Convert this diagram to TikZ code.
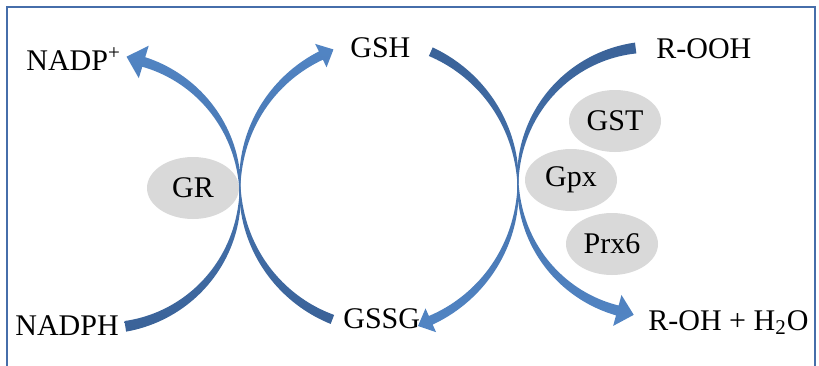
\documentclass[tikz,border=0pt]{standalone}
\usepackage{fontspec}
\setmainfont{Liberation Serif}
\usepackage{xcolor}
\usepackage{tikz}
\usetikzlibrary{shapes.geometric, positioning}
\definecolor{framecol}{RGB}{70,110,170}
\definecolor{arcdark}{RGB}{58,98,152}
\definecolor{arclight}{RGB}{82,133,196}

\begin{document}
\begin{tikzpicture}[x=0.5pt, y=-0.5pt,
  chem/.style={inner sep=0, anchor=base west, font=\fontsize{15}{18}\selectfont},
  enzyme/.style={ellipse, fill=gray!30, minimum width=46pt, minimum height=31pt,
    inner sep=0, font=\fontsize{15}{18}\selectfont}]
  \useasboundingbox (0,0) rectangle (819,365);
  \clip (0,0) rectangle (819,365);
  % frame
  \draw[framecol, line width=1pt] (7,7) rectangle (815,380);

  % enzymes
  \node[enzyme] (gr)  at (193,188) {GR};
  \node[enzyme] (gst) at (615,121) {GST};
  \node[enzyme] (gpx) at (571,180) {Gpx};
  \node[enzyme] (prx) at (612,244) {Prx6};

  % tapered arcs: centre, radius, tail / pinch / head angle, sense, head size
  \foreach \cx/\cy/\rad/\aT/\aM/\aH/\sg/\hw/\hl/\ctop/\cbot in {
      104/192/136/81/0/-73/-1/17/18/arclight/arcdark,
      384/185/144/111/180/244/1/13/14/arclight/arcdark,
      371/186/147/-66/0/66/1/13/14/arcdark/arclight,
      652/181/134/263/180/105/-1/16/17/arcdark/arclight}
  {
    \path[top color=\ctop, bottom color=\cbot]
      plot[domain=\aT:\aH, samples=80]
        ({\cx+(\rad+0.3+4.8*pow(abs(\x-\aM)/75,0.7))*cos(\x)}, {\cy+(\rad+0.3+4.8*pow(abs(\x-\aM)/75,0.7))*sin(\x)})
      -- ({\cx+(\rad+\hw)*cos(\aH)}, {\cy+(\rad+\hw)*sin(\aH)})
      -- ({\cx+\rad*cos(\aH)-(\sg)*\hl*sin(\aH)}, {\cy+\rad*sin(\aH)+(\sg)*\hl*cos(\aH)})
      -- ({\cx+(\rad-\hw)*cos(\aH)}, {\cy+(\rad-\hw)*sin(\aH)})
      -- plot[domain=\aH:\aT, samples=80]
        ({\cx+(\rad-0.3-4.8*pow(abs(\x-\aM)/75,0.7))*cos(\x)}, {\cy+(\rad-0.3-4.8*pow(abs(\x-\aM)/75,0.7))*sin(\x)})
      -- cycle;
  }

  % substrates and products
  \node[chem] (nadpp) at (26,70)   {NADP\textsuperscript{+}};
  \node[chem] (gsh)   at (350,57)  {GSH};
  \node[chem] (rooh)  at (656,58)  {R-OOH};
  \node[chem] (nadph) at (15,335)  {NADPH};
  \node[chem] (gssg)  at (343,328) {GSSG};
  \node[chem] (roh)   at (648,330) {R-OH + H\textsubscript{2}O};
\end{tikzpicture}
\end{document}
